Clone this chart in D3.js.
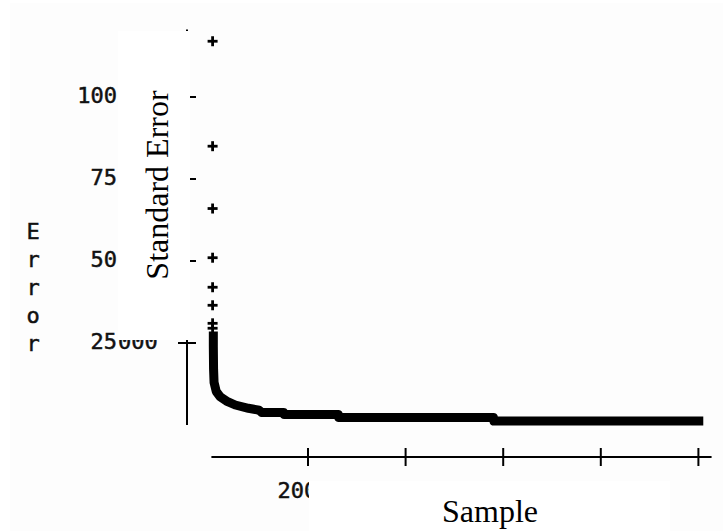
<!DOCTYPE html>
<html>
<head>
<meta charset="utf-8">
<script src="https://cdn.jsdelivr.net/npm/d3@7"></script>
<style>
  html, body { margin: 0; padding: 0; background: #fff; }
  svg { display: block; }
  .mono { font-family: 'DejaVu Sans Mono', monospace; font-size: 22px; fill: #111; stroke: #111; stroke-width: 0.5px; }
</style>
</head>
<body>
<script>
  const WIDTH = 723, HEIGHT = 531;
  const SERIF = "'Liberation Serif', 'Times New Roman', serif";

  // sparse top points (sample, error) drawn as single "+" marks
  const sparseSamples = [45, 45, 45, 45, 45, 45, 45, 45];
  const sparseErrors  = [117, 85, 66, 51, 42, 36.5, 31, 29.5];

  // dense run of points
  const denseSamples = [60, 60, 65, 75, 120, 200, 330, 510, 780, 1000, 1050, 1500, 1510, 2620, 2630, 5800, 5810, 10100];
  const denseErrors  = [28.5, 24, 17, 13, 10.2, 8.6, 7.3, 6.1, 5.1, 4.5, 3.8, 3.8, 3.2, 3.2, 2.3, 2.3, 1.2, 1.2];

  const xTicks = [2000, 4000, 6000, 8000, 10000];
  const xLabels = ["2000", "4000", "6000", "8000"];
  const yTicks = [100, 75, 50, 25];
  const yLetters = ["E", "r", "r", "o", "r"];

  const svg = d3.select("body").append("svg")
    .attr("width", WIDTH).attr("height", HEIGHT);

  // faint grey page, white rim at the top/left
  svg.append("rect").attr("x", 0).attr("y", 0).attr("width", WIDTH).attr("height", HEIGHT).attr("fill", "#fff");
  svg.append("rect").attr("x", 10).attr("y", 3).attr("width", WIDTH - 10).attr("height", HEIGHT - 3).attr("fill", "#fdfdfd");

  const x = d3.scaleLinear().domain([0, 10000]).range([210.4, 698.4]);
  const y = d3.scaleLinear().domain([0, 100]).range([425, 97]);

  // y axis (line + crossing ticks)
  const ya = svg.append("g").attr("stroke", "#000").attr("stroke-width", 2);
  ya.append("line").attr("x1", 187).attr("x2", 187).attr("y1", y(0)).attr("y2", y(120.6));
  ya.selectAll(".yt").data(yTicks).enter().append("line")
    .attr("x1", d => d === 25 ? 178 : 187).attr("x2", 196)
    .attr("y1", d => y(d)).attr("y2", d => y(d));

  svg.selectAll(".ylab").data(yTicks).enter().append("text")
    .attr("class", "mono")
    .attr("x", 117).attr("y", d => y(d) + 6)
    .attr("text-anchor", "end")
    .text(d => d);
  svg.append("text")
    .attr("class", "mono")
    .attr("x", 118).attr("y", y(25) + 6)
    .text("000");

  svg.selectAll(".yl").data(yLetters).enter().append("text")
    .attr("class", "mono")
    .attr("x", 33).attr("y", (d, i) => 239 + i * 28)
    .attr("text-anchor", "middle")
    .text(d => d);

  // x axis
  const xa = svg.append("g").attr("stroke", "#000").attr("stroke-width", 2);
  xa.append("line").attr("x1", x(0) + 1).attr("x2", x(10270)).attr("y1", 457).attr("y2", 457);
  xa.selectAll(".xt").data(xTicks).enter().append("line")
    .attr("x1", d => x(d)).attr("x2", d => x(d))
    .attr("y1", 448).attr("y2", 466);

  svg.selectAll(".xlab").data(xLabels).enter().append("text")
    .attr("class", "mono")
    .attr("x", d => x(+d) - 4).attr("y", 498)
    .attr("text-anchor", "middle")
    .text(d => d);

  // dense band
  const dense = denseSamples.map((s, i) => [s, denseErrors[i]]);
  svg.append("path")
    .datum(dense)
    .attr("d", d3.line().x(d => x(d[0])).y(d => y(d[1])))
    .attr("fill", "none")
    .attr("stroke", "#000")
    .attr("stroke-width", 9)
    .attr("stroke-linejoin", "round")
    .attr("stroke-linecap", "butt");

  // "+" markers
  const sparse = sparseSamples.map((s, i) => [s, sparseErrors[i]]);
  const plus = svg.selectAll(".pt").data(sparse).enter().append("g")
    .attr("transform", d => `translate(${x(d[0])},${y(d[1])})`)
    .attr("stroke", "#000").attr("stroke-width", 2.8);
  plus.append("line").attr("x1", -5).attr("x2", 5).attr("y1", 0).attr("y2", 0);
  plus.append("line").attr("x1", 0).attr("x2", 0).attr("y1", -5).attr("y2", 5);

  // white label boxes laid over the old axis text
  svg.append("rect").attr("x", 118).attr("y", 31).attr("width", 72).attr("height", 309).attr("fill", "#fff");
  svg.append("rect").attr("x", 309).attr("y", 481).attr("width", 361).attr("height", 50).attr("fill", "#fff");

  svg.append("text")
    .attr("transform", "translate(168,185) rotate(-90)")
    .attr("text-anchor", "middle")
    .attr("font-family", SERIF).attr("font-size", 32).attr("fill", "#000")
    .text("Standard Error");

  svg.append("text")
    .attr("x", 490).attr("y", 522)
    .attr("text-anchor", "middle")
    .attr("font-family", SERIF).attr("font-size", 32).attr("fill", "#000")
    .text("Sample");
</script>
</body>
</html>
